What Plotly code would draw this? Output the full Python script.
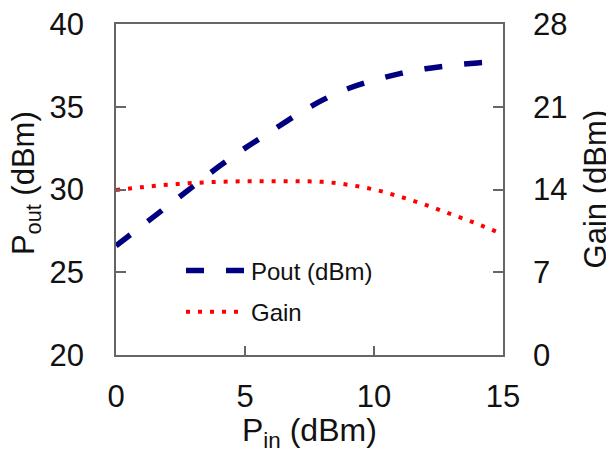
import plotly.graph_objects as go

pin = [0, 1, 2, 3, 4, 5, 6, 7, 8, 9, 10, 11, 12, 13, 14, 15]
pout = [26.6, 27.8, 29.0, 30.2, 31.4, 32.5, 33.5, 34.5, 35.4, 36.1, 36.6, 37.0, 37.3, 37.5, 37.65, 37.75]
gain = [13.95, 14.2, 14.4, 14.55, 14.65, 14.7, 14.7, 14.7, 14.65, 14.4, 14.0, 13.4, 12.7, 11.9, 11.1, 10.2]

x_ticks = [0, 5, 10, 15]
pout_ticks = [20, 25, 30, 35, 40]
gain_ticks = [0, 7, 14, 21, 28]

FONT = "Liberation Sans, Arial, sans-serif"
AXC = "#666666"

fig = go.Figure()
fig.add_trace(go.Scatter(
    x=pin, y=pout, name="Pout (dBm)", mode="lines", legendgroup="a",
    line=dict(color="#000080", width=5.5, dash="18px,22px", shape="spline"),
))
fig.add_trace(go.Scatter(
    x=pin, y=gain, name="Gain", mode="lines", yaxis="y2", legendgroup="b",
    line=dict(color="#ff0000", width=4, dash="4px,8px", shape="spline"),
))

# the page body has an 8px margin, so the figure is 8px smaller and margins shifted
fig.update_layout(
    width=606, height=444,
    margin=dict(l=108, r=111, t=16, b=97, autoexpand=False),
    paper_bgcolor="white", plot_bgcolor="white",
    font=dict(family=FONT, color="#111111"),
    showlegend=True,
    legend=dict(x=0.168, y=0.322, xanchor="left", yanchor="top",
                bgcolor="rgba(0,0,0,0)", font=dict(size=24, family=FONT),
                tracegroupgap=7, itemwidth=60),
    xaxis=dict(range=[0, 15], tickvals=x_ticks, ticks="inside", ticklen=9, automargin=False,
               tickcolor=AXC, tickwidth=1.5, showline=True, linecolor=AXC, linewidth=1.5,
               mirror=True, showgrid=False, zeroline=False, ticklabeloverflow="allow",
               tickfont=dict(size=31, family=FONT), ticklabelstandoff=13),
    yaxis=dict(range=[20, 40], tickvals=pout_ticks, ticks="inside", ticklen=10, automargin=False,
               tickcolor=AXC, tickwidth=1.5, showline=True, linecolor=AXC, linewidth=1.5,
               showgrid=False, zeroline=False, ticklabeloverflow="allow",
               tickfont=dict(size=31, family=FONT), ticklabelstandoff=24),
    yaxis2=dict(range=[0, 28], tickvals=gain_ticks, ticks="inside", ticklen=10, automargin=False,
                tickcolor=AXC, tickwidth=1.5, showline=True, linecolor=AXC, linewidth=1.5,
                overlaying="y", side="right", showgrid=False, zeroline=False,
                ticklabeloverflow="allow",
                tickfont=dict(size=31, family=FONT), ticklabelstandoff=22),
    annotations=[
        dict(text="P<sub>in</sub> (dBm)", xref="paper", yref="paper", x=0.5, y=-0.235,
             xanchor="center", yanchor="middle", showarrow=False, font=dict(size=32, family=FONT)),
        dict(text="P<sub>out</sub> (dBm)", xref="paper", yref="paper", x=-0.232, y=0.52,
             xanchor="center", yanchor="middle", showarrow=False, textangle=-90,
             font=dict(size=31, family=FONT)),
        dict(text="Gain (dBm)", xref="paper", yref="paper", x=1.24, y=0.5,
             xanchor="center", yanchor="middle", showarrow=False, textangle=-90,
             font=dict(size=31, family=FONT)),
    ],
)

fig.write_html("out.html")
